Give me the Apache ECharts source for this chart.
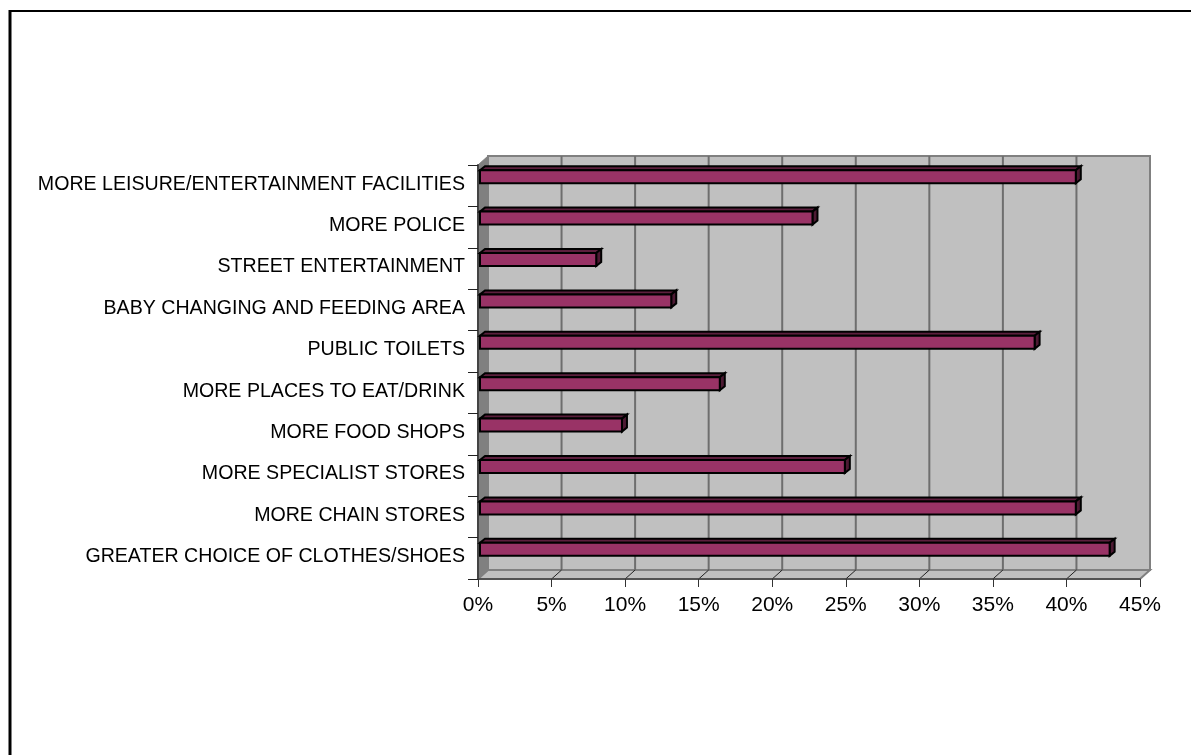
<!DOCTYPE html>
<html><head><meta charset="utf-8">
<style>html,body{margin:0;padding:0;background:#fff}#c{width:1191px;height:755px}</style>
<script src="https://cdn.jsdelivr.net/npm/echarts@6/dist/echarts.min.js"></script>
</head><body><div id="c"></div>
<script>
const categories = ["GREATER CHOICE OF CLOTHES/SHOES","MORE CHAIN STORES","MORE SPECIALIST STORES","MORE FOOD SHOPS","MORE PLACES TO EAT/DRINK","PUBLIC TOILETS","BABY CHANGING AND FEEDING AREA","STREET ENTERTAINMENT","MORE POLICE","MORE LEISURE/ENTERTAINMENT FACILITIES"];
const values = [42.8,40.5,24.8,9.65,16.3,37.7,13.0,7.9,22.6,40.5];
const xTicks = [0,5,10,15,20,25,30,35,40,45];
const DX = 10, DY = -9;          // depth of the 3D box
const BDX = 5, BDY = -4;         // depth of a bar
const BAR_H = 13, BAR_OX = 2, BAR_OY = -9;

const chart = echarts.init(document.getElementById('c'));
chart.setOption({
  animation:false,
  backgroundColor:'#fff',
  grid:{left:478,right:51,top:165,bottom:176,containLabel:false},
  graphic:[
    {type:'line',shape:{x1:10,y1:11,x2:1191,y2:11},style:{stroke:'#000',lineWidth:2}},
    {type:'line',shape:{x1:10,y1:10,x2:10,y2:755},style:{stroke:'#000',lineWidth:3}}
  ],
  xAxis:{type:'value',min:0,max:45,interval:5,z:5,
    axisLabel:{formatter:'{value}%',fontFamily:'Liberation Sans',fontSize:21,color:'#000',margin:16},
    axisLine:{show:true,lineStyle:{color:'#444',width:1.5}},
    axisTick:{show:true,length:8,lineStyle:{color:'#333',width:1}},
    splitLine:{show:false}},
  yAxis:{type:'category',data:categories,z:5,
    axisLabel:{fontFamily:'Liberation Sans',fontSize:19.6,color:'#000',margin:13,interval:0,verticalAlign:'bottom',lineHeight:3},
    axisLine:{show:true,lineStyle:{color:'#444',width:2}},
    axisTick:{show:true,length:10,alignWithLabel:false,interval:0,lineStyle:{color:'#222',width:1}},
    splitLine:{show:false}},
  series:[
    {type:'custom',coordinateSystem:'cartesian2d',z:1,silent:true,clip:false,
     data:[[0,0]],encode:{x:0,y:1},
     renderItem(params,api){
       const g=params.coordSys, L=g.x,T=g.y,R=g.x+g.width,B=g.y+g.height;
       const ch=[];
       ch.push({type:'rect',shape:{x:L+DX,y:T+DY,width:g.width,height:g.height},style:{fill:'#C0C0C0',stroke:'#808080',lineWidth:2}});
       ch.push({type:'polygon',shape:{points:[[L,T],[L+DX,T+DY],[L+DX,B+DY],[L,B]]},style:{fill:'#808080',stroke:'#808080',lineWidth:1}});
       ch.push({type:'polygon',shape:{points:[[L,B],[L+DX,B+DY],[R+DX,B+DY],[R,B]]},style:{fill:'#C0C0C0',stroke:'#808080',lineWidth:2}});
       xTicks.slice(1,-1).forEach(t=>{
         const x=api.coord([t,0])[0];
         ch.push({type:'line',shape:{x1:x+DX,y1:T+DY,x2:x+DX,y2:B+DY},style:{stroke:'#6e6e6e',lineWidth:2}});
         ch.push({type:'line',shape:{x1:x,y1:B,x2:x+DX,y2:B+DY},style:{stroke:'#222',lineWidth:1}});
       });
       return {type:'group',children:ch};
     }},
    {type:'custom',coordinateSystem:'cartesian2d',z:6,silent:true,clip:false,
     data:values.map((v,i)=>[v,i]),encode:{x:0,y:1},
     renderItem(params,api){
       const a=api.coord([0,api.value(1)]), b=api.coord([api.value(0),api.value(1)]);
       const x0=a[0]+BAR_OX, x1=b[0]+BAR_OX, y0=a[1]+BAR_OY-BAR_H/2, y1=y0+BAR_H;
       const s={stroke:'#000',lineWidth:2,lineJoin:'miter'};
       return {type:'group',children:[
         {type:'polygon',shape:{points:[[x0,y0],[x0+BDX,y0+BDY],[x1+BDX,y0+BDY],[x1,y0]]},style:{fill:'#5c1f3d',...s}},
         {type:'polygon',shape:{points:[[x1,y0],[x1+BDX,y0+BDY],[x1+BDX,y1+BDY],[x1,y1]]},style:{fill:'#4d1a33',...s}},
         {type:'rect',shape:{x:x0,y:y0,width:x1-x0,height:BAR_H},style:{fill:'#993366',...s}}
       ]};
     }}
  ]
});
</script></body></html>
